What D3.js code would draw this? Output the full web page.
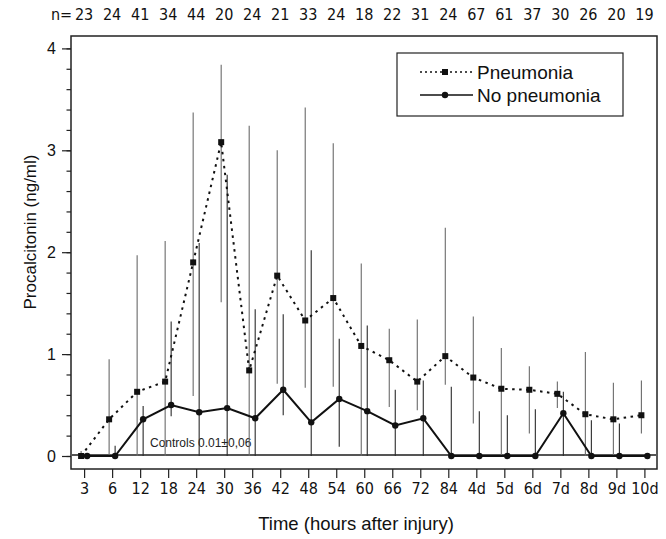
<!DOCTYPE html>
<html>
<head>
<meta charset="utf-8">
<script src="https://cdn.jsdelivr.net/npm/d3@7"></script>
<style>
  body { margin: 0; background: #fff; }
  svg { display: block; }
  .narrow { font-family: "Liberation Sans Narrow", "Arial Narrow", "DejaVu Sans Condensed", sans-serif; }
  .reg { font-family: "Liberation Sans", Arial, Helvetica, sans-serif; }
</style>
</head>
<body>
<div id="chart"></div>
<script>
// time points and number of patients per time point
var categories = ["3", "6", "12", "18", "24", "30", "36", "42", "48", "54", "60", "66", "72", "84", "4d", "5d", "6d", "7d", "8d", "9d", "10d"];
var nCounts = [23, 24, 41, 34, 44, 20, 24, 21, 33, 24, 18, 22, 31, 24, 67, 61, 37, 30, 26, 20, 19];

// Pneumonia: mean and error bar (low / high)
var pneuMean = [0, 0.36, 0.63, 0.73, 1.90, 3.08, 0.84, 1.77, 1.33, 1.55, 1.08, 0.94, 0.73, 0.98, 0.77, 0.66, 0.65, 0.61, 0.41, 0.36, 0.40];
var pneuLow  = [0, 0, 0, 0, 0.59, 1.51, 0, 0.71, 0.67, 0.68, 0, 0.48, 0.45, 0.70, 0.32, 0, 0.22, 0.47, 0, 0, 0.22];
var pneuHigh = [0.05, 0.95, 1.97, 2.11, 3.37, 3.84, 3.24, 3.00, 3.42, 3.07, 1.89, 1.25, 1.34, 2.24, 1.37, 1.06, 0.88, 0.73, 1.02, 0.72, 0.74];

// No pneumonia: mean and error bar (low / high)
var noMean = [0, 0, 0.36, 0.50, 0.43, 0.47, 0.37, 0.65, 0.33, 0.56, 0.44, 0.30, 0.37, 0, 0, 0, 0, 0.42, 0, 0, 0];
var noLow  = [0, 0, 0, 0.39, 0, 0, 0, 0.40, 0, 0.09, 0, 0, 0, 0, 0, 0, 0, 0, 0, 0, 0];
var noHigh = [0, 0.10, 0.49, 1.32, 2.09, 2.76, 1.44, 1.39, 2.02, 1.15, 1.28, 0.65, 0.74, 0.68, 0.44, 0.40, 0.46, 0.63, 0.35, 0.32, 0];

var controlsValue = 0.01;

var width = 666, height = 539;
var frame = {left: 71, right: 657, top: 36, bottom: 469};

var svg = d3.select("#chart").append("svg")
    .attr("width", width)
    .attr("height", height);

var x = d3.scalePoint()
    .domain(categories)
    .range([frame.left + 0.5, frame.right])
    .padding(0.45);

var y = d3.scaleLinear()
    .domain([0, 4])
    .range([456, 48.4]);

var offP = -3, offN = 3;

function rows(mean, low, high) {
    return categories.map(function(c, i) {
        return {cat: c, v: mean[i], lo: low[i], hi: high[i]};
    });
}
var pneu = rows(pneuMean, pneuLow, pneuHigh);
var nop = rows(noMean, noLow, noHigh);

// plot frame
svg.append("rect")
    .attr("x", frame.left)
    .attr("y", frame.top)
    .attr("width", frame.right - frame.left)
    .attr("height", frame.bottom - frame.top)
    .attr("fill", "none")
    .attr("stroke", "#222")
    .attr("stroke-width", 1.5);

// y axis: minor then major ticks
var yMinor = svg.append("g")
    .attr("transform", "translate(" + frame.left + ",0)")
    .call(d3.axisLeft(y).tickValues(d3.range(0, 21).map(function(i) { return i * 0.2; })).tickSize(4.5).tickFormat(""));
yMinor.select(".domain").remove();

var yMajor = svg.append("g")
    .attr("class", "reg")
    .attr("transform", "translate(" + frame.left + ",0)")
    .call(d3.axisLeft(y).tickValues([0, 1, 2, 3, 4]).tickSize(9).tickPadding(6).tickFormat(d3.format("d")));
yMajor.select(".domain").remove();
yMajor.selectAll("text").attr("font-size", 16).attr("font-family", null).attr("fill", "#111");
svg.selectAll(".tick line").attr("stroke", "#222").attr("stroke-width", 1.2);

// x axis
var xAxis = svg.append("g")
    .attr("class", "narrow")
    .attr("transform", "translate(0," + frame.bottom + ")")
    .call(d3.axisBottom(x).tickSize(9).tickPadding(5));
xAxis.select(".domain").remove();
xAxis.selectAll("text").attr("font-size", 16).attr("font-family", null).attr("fill", "#111");
xAxis.selectAll("line").attr("stroke", "#222").attr("stroke-width", 1.2);

// n per time point along the top
svg.append("g").attr("class", "narrow")
    .selectAll("text")
    .data(categories)
    .enter().append("text")
    .attr("x", function(d) { return x(d); })
    .attr("y", 20)
    .attr("text-anchor", "middle")
    .attr("font-size", 16)
    .attr("fill", "#111")
    .text(function(d, i) { return nCounts[i]; });
svg.append("text")
    .attr("class", "narrow")
    .attr("x", x(categories[0]) - 12)
    .attr("y", 20)
    .attr("text-anchor", "end")
    .attr("font-size", 16)
    .attr("fill", "#111")
    .text("n=");

// controls line and label
svg.append("line")
    .attr("x1", frame.left + 1)
    .attr("x2", frame.right - 1)
    .attr("y1", y(controlsValue))
    .attr("y2", y(controlsValue))
    .attr("stroke", "#555")
    .attr("stroke-width", 1.8);
svg.append("text")
    .attr("class", "reg")
    .attr("x", 150)
    .attr("y", 447)
    .attr("font-size", 12)
    .attr("fill", "#222")
    .text("Controls 0.01\u00b10,06");

// error bars
svg.append("g").selectAll("line")
    .data(pneu)
    .enter().append("line")
    .attr("x1", function(d) { return x(d.cat) + offP; })
    .attr("x2", function(d) { return x(d.cat) + offP; })
    .attr("y1", function(d) { return y(d.lo); })
    .attr("y2", function(d) { return y(d.hi); })
    .attr("stroke", "#6a6a6a")
    .attr("stroke-width", 1.1);

svg.append("g").selectAll("line")
    .data(nop)
    .enter().append("line")
    .attr("x1", function(d) { return x(d.cat) + offN; })
    .attr("x2", function(d) { return x(d.cat) + offN; })
    .attr("y1", function(d) { return y(d.lo); })
    .attr("y2", function(d) { return y(d.hi); })
    .attr("stroke", "#2a2a2a")
    .attr("stroke-width", 1.1);

// series lines
var lineP = d3.line()
    .x(function(d) { return x(d.cat) + offP; })
    .y(function(d) { return y(d.v); });
var lineN = d3.line()
    .x(function(d) { return x(d.cat) + offN; })
    .y(function(d) { return y(d.v); });

svg.append("path")
    .datum(pneu)
    .attr("d", lineP)
    .attr("fill", "none")
    .attr("stroke", "#111")
    .attr("stroke-width", 2)
    .attr("stroke-dasharray", "2.5,4.5");

svg.append("path")
    .datum(nop)
    .attr("d", lineN)
    .attr("fill", "none")
    .attr("stroke", "#111")
    .attr("stroke-width", 2);

// markers
svg.append("g").selectAll("rect")
    .data(pneu)
    .enter().append("rect")
    .attr("x", function(d) { return x(d.cat) + offP - 3; })
    .attr("y", function(d) { return y(d.v) - 3; })
    .attr("width", 6)
    .attr("height", 6)
    .attr("fill", "#111");

svg.append("g").selectAll("circle")
    .data(nop)
    .enter().append("circle")
    .attr("cx", function(d) { return x(d.cat) + offN; })
    .attr("cy", function(d) { return y(d.v); })
    .attr("r", 3.2)
    .attr("fill", "#111");

// legend
var legend = svg.append("g").attr("class", "reg");
legend.append("rect")
    .attr("x", 397)
    .attr("y", 53)
    .attr("width", 226)
    .attr("height", 63)
    .attr("fill", "#fff")
    .attr("stroke", "#222")
    .attr("stroke-width", 1.2);
legend.append("line")
    .attr("x1", 420).attr("x2", 473)
    .attr("y1", 72).attr("y2", 72)
    .attr("stroke", "#111")
    .attr("stroke-width", 1.5)
    .attr("stroke-dasharray", "2,3");
legend.append("rect")
    .attr("x", 442).attr("y", 69)
    .attr("width", 6).attr("height", 6)
    .attr("fill", "#111");
legend.append("line")
    .attr("x1", 420).attr("x2", 473)
    .attr("y1", 95).attr("y2", 95)
    .attr("stroke", "#111")
    .attr("stroke-width", 1.5);
legend.append("circle")
    .attr("cx", 445).attr("cy", 95)
    .attr("r", 3.2)
    .attr("fill", "#111");
legend.append("text")
    .attr("x", 477).attr("y", 79)
    .attr("font-size", 19)
    .attr("fill", "#111")
    .text("Pneumonia");
legend.append("text")
    .attr("x", 477).attr("y", 102)
    .attr("font-size", 19)
    .attr("fill", "#111")
    .text("No pneumonia");

// axis titles
svg.append("text")
    .attr("class", "reg")
    .attr("transform", "translate(36,232) rotate(-90)")
    .attr("text-anchor", "middle")
    .attr("font-size", 17)
    .attr("fill", "#111")
    .text("Procalcitonin (ng/ml)");

svg.append("text")
    .attr("class", "reg")
    .attr("x", 356)
    .attr("y", 530)
    .attr("text-anchor", "middle")
    .attr("font-size", 18.5)
    .attr("fill", "#111")
    .text("Time (hours after injury)");
</script>
</body>
</html>
